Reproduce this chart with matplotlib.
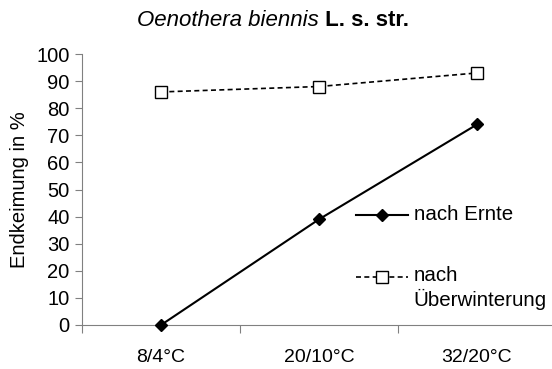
import matplotlib.pyplot as plt
from matplotlib.lines import Line2D

plt.rcParams['font.family'] = ['Liberation Sans', 'DejaVu Sans']

categories = ['8/4°C', '20/10°C', '32/20°C']
nach_ernte = [0, 39, 74]
nach_ueberwinterung = [86, 88, 93]

W, H = 552, 369
fig = plt.figure(figsize=(W / 100, H / 100), dpi=100)
# axes box in pixels: left 82, right 556, y0 at 325, y100 at 54
ax = fig.add_axes([82 / W, (H - 325) / H, (556 - 82) / W, (325 - 54) / H])

x = range(len(categories))
ax.plot(x, nach_ernte, color='black', lw=1.5, marker='D', ms=6,
        mfc='black', mec='black', clip_on=False)
ax.plot(x, nach_ueberwinterung, color='black', lw=1.2, ls=(0, (3, 2)), marker='s', ms=8,
        mfc='white', mec='black', mew=1, clip_on=False)

ax.set_xlim(-0.5, 2.5)
ax.set_ylim(0, 100)
ax.set_yticks(range(0, 101, 10))
ax.set_xticks([-0.5, 0.5, 1.5, 2.5])
ax.set_xticklabels([])
ax.set_xticks(list(x), minor=True)
ax.set_xticklabels(categories, minor=True)
ax.tick_params(axis='x', which='minor', length=0, pad=17, labelsize=14)
ax.tick_params(axis='x', which='major', length=6, color='#808080', direction='out')
ax.tick_params(axis='y', length=5, color='#808080', labelsize=14.5, pad=4)

for s in ['top', 'right']:
    ax.spines[s].set_visible(False)
for s in ['left', 'bottom']:
    ax.spines[s].set_color('#808080')
ax.spines['bottom'].set_zorder(0)

ax.set_ylabel('Endkeimung in %', fontsize=14.5, labelpad=5)

# legend drawn by hand (Excel style, second label on two lines)
hx = [0.578, 0.633, 0.688]
ax.add_line(Line2D(hx, [0.406] * 3, transform=ax.transAxes, color='black', lw=1.5,
                   marker='D', ms=6, markevery=[1], clip_on=False))
ax.add_line(Line2D(hx, [0.177] * 3, transform=ax.transAxes, color='black', lw=1.2,
                   ls=(0, (3, 2)), marker='s', ms=8, mfc='white', mec='black',
                   markevery=[1], clip_on=False))
ax.text(0.700, 0.406, 'nach Ernte', transform=ax.transAxes, fontsize=14.8, va='center')
ax.text(0.700, 0.177 + 0.042, 'nach\nÜberwinterung', transform=ax.transAxes, fontsize=14.8,
        va='top', linespacing=1.25)

# title: species name italic, rest bold
t1 = fig.text(137 / W, 1 - 20 / H, 'Oenothera biennis', fontsize=16, style='italic',
              va='center', ha='left')
fig.canvas.draw()
bb = t1.get_window_extent()
fig.text(bb.x1 / W, 1 - 20 / H, ' L. s. str.', fontsize=16, weight='bold',
         va='center', ha='left')

fig.savefig('out.png', dpi=100)
